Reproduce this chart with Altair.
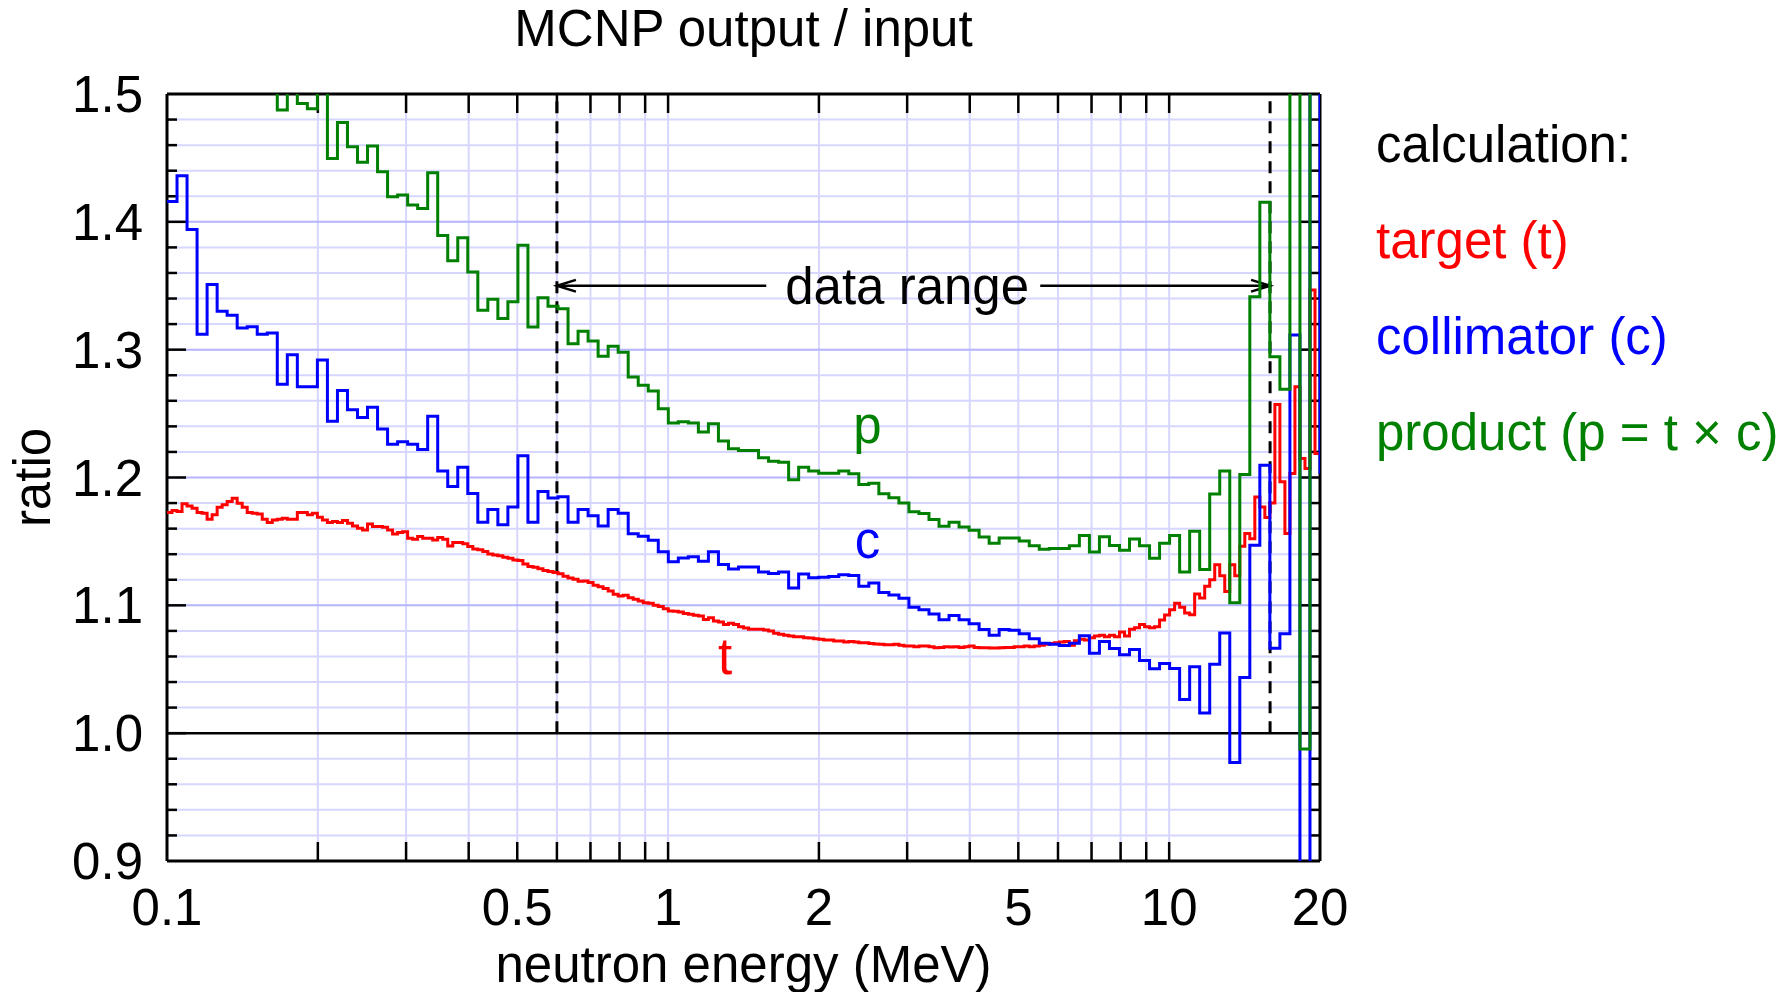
import numpy as np
import pandas as pd
import altair as alt

# ---------------- data ----------------
E_MIN, E_MAX = 0.1, 20.0   # MeV, histogram range (equal-lethargy bins)

# target (t): 230 fine bins (100 per decade)
TARGET = [
    1.1726, 1.1742, 1.1734, 1.1794, 1.1778, 1.1760, 1.1726, 1.1721, 1.1674, 1.1708,
    1.1768, 1.1786, 1.1812, 1.1838, 1.1799, 1.1768, 1.1726, 1.1721, 1.1715, 1.1674,
    1.1648, 1.1668, 1.1674, 1.1682, 1.1674, 1.1674, 1.1726, 1.1726, 1.1708, 1.1721,
    1.1689, 1.1668, 1.1648, 1.1655, 1.1648, 1.1663, 1.1642, 1.1621, 1.1603, 1.1590,
    1.1637, 1.1616, 1.1616, 1.1611, 1.1590, 1.1559, 1.1569, 1.1575, 1.1525, 1.1517,
    1.1538, 1.1525, 1.1525, 1.1512, 1.1530, 1.1517, 1.1465, 1.1491, 1.1491, 1.1481,
    1.1460, 1.1441, 1.1434, 1.1421, 1.1402, 1.1394, 1.1387, 1.1376, 1.1368, 1.1355,
    1.1350, 1.1324, 1.1303, 1.1298, 1.1287, 1.1272, 1.1264, 1.1256, 1.1248, 1.1228,
    1.1214, 1.1204, 1.1188, 1.1191, 1.1178, 1.1157, 1.1146, 1.1131, 1.1112, 1.1086,
    1.1073, 1.1078, 1.1060, 1.1047, 1.1034, 1.1021, 1.1016, 1.1000, 1.0990, 1.0974,
    1.0956, 1.0953, 1.0948, 1.0937, 1.0930, 1.0922, 1.0916, 1.0890, 1.0903, 1.0877,
    1.0869, 1.0851, 1.0859, 1.0851, 1.0833, 1.0823, 1.0812, 1.0812, 1.0812, 1.0807,
    1.0799, 1.0781, 1.0773, 1.0765, 1.0760, 1.0755, 1.0755, 1.0747, 1.0744, 1.0739,
    1.0734, 1.0729, 1.0729, 1.0721, 1.0721, 1.0713, 1.0718, 1.0713, 1.0708, 1.0708,
    1.0702, 1.0697, 1.0695, 1.0692, 1.0692, 1.0695, 1.0687, 1.0682, 1.0682, 1.0676,
    1.0682, 1.0682, 1.0676, 1.0668, 1.0671, 1.0676, 1.0674, 1.0676, 1.0671, 1.0676,
    1.0682, 1.0671, 1.0668, 1.0668, 1.0666, 1.0666, 1.0668, 1.0671, 1.0671, 1.0676,
    1.0676, 1.0682, 1.0676, 1.0682, 1.0687, 1.0695, 1.0702, 1.0708, 1.0713, 1.0718,
    1.0687, 1.0723, 1.0734, 1.0729, 1.0747, 1.0760, 1.0765, 1.0755, 1.0765, 1.0755,
    1.0791, 1.0760, 1.0812, 1.0825, 1.0851, 1.0833, 1.0825, 1.0833, 1.0885, 1.0925,
    1.0965, 1.1016, 1.0985, 1.0940, 1.0927, 1.1088, 1.1057, 1.1149, 1.1200, 1.1318,
    1.1232, 1.1109, 1.1318, 1.1232, 1.1462, 1.1561, 1.1520, 1.1848, 1.1770, 1.1688,
    1.1800, 1.2571, 1.1966, 1.1561, 1.2031, 1.2710, 1.2148, 1.2070, 1.3466, 1.2187,
]
TARGET_END = 1.2187

# collimator (c): 115 coarse bins (50 per decade)
COLLIMATOR = [
    1.416, 1.436, 1.394, 1.312, 1.351, 1.330, 1.327, 1.317, 1.318, 1.312,
    1.313, 1.273, 1.296, 1.271, 1.271, 1.292, 1.244, 1.268, 1.253, 1.247,
    1.255, 1.238, 1.226, 1.228, 1.226, 1.222, 1.248, 1.205, 1.193, 1.208,
    1.1875, 1.165, 1.175, 1.163, 1.177, 1.217, 1.165, 1.189, 1.184, 1.185,
    1.165, 1.175, 1.170, 1.162, 1.175, 1.172, 1.156, 1.154, 1.151, 1.142,
    1.134, 1.137, 1.138, 1.1345, 1.142, 1.132, 1.1285, 1.130, 1.130, 1.126,
    1.125, 1.126, 1.1136, 1.1246, 1.1215, 1.122, 1.1225, 1.124, 1.1233, 1.115,
    1.1175, 1.110, 1.108, 1.1055, 1.0985, 1.0966, 1.0932, 1.0887, 1.092, 1.0887,
    1.0856, 1.081, 1.0765, 1.081, 1.0806, 1.0778, 1.0739, 1.0704, 1.0695, 1.0686,
    1.0704, 1.0763, 1.0625, 1.0718, 1.0663, 1.0614, 1.0654, 1.0569, 1.0503, 1.0545,
    1.0505, 1.0264, 1.052, 1.0157, 1.054, 1.0783, 0.977, 1.0436, 1.147, 1.2095,
    1.0665, 1.0778, 1.3114, 0.82, 1.62,
]
COLLIMATOR_END = 1.203

# product (p = t x c): 115 coarse bins
PRODUCT = [
    1.66, 1.69, 1.64, 1.54, 1.58, 1.55, 1.55, 1.54, 1.545, 1.535,
    1.535, 1.4874, 1.52, 1.4925, 1.4885, 1.51, 1.4496, 1.4778, 1.4587, 1.4467,
    1.4593, 1.4392, 1.4196, 1.4209, 1.4131, 1.4104, 1.4384, 1.3893, 1.3695, 1.3875,
    1.3608, 1.3308, 1.3394, 1.3243, 1.3374, 1.3817, 1.3178, 1.3407, 1.334, 1.3321,
    1.3047, 1.3144, 1.3068, 1.2948, 1.3026, 1.2979, 1.2786, 1.2721, 1.2676, 1.2538,
    1.2426, 1.2436, 1.2426, 1.2355, 1.2421, 1.2285, 1.2225, 1.2212, 1.2212, 1.2154,
    1.2128, 1.212, 1.1982, 1.2081, 1.205, 1.2034, 1.2034, 1.205, 1.2029, 1.1945,
    1.1956, 1.1872, 1.1841, 1.18, 1.1733, 1.1718, 1.1671, 1.1618, 1.165, 1.1613,
    1.1587, 1.1535, 1.1485, 1.1527, 1.1527, 1.1503, 1.1466, 1.1438, 1.1445, 1.1445,
    1.1466, 1.1547, 1.1417, 1.1537, 1.1469, 1.143, 1.1518, 1.1466, 1.1368, 1.1485,
    1.1547, 1.126, 1.158, 1.128, 1.187, 1.205, 1.102, 1.2023, 1.3414, 1.4153,
    1.2944, 1.2691, 1.62, 0.9877, 2.0,
]
PRODUCT_END = 2.0

# axes / annotations
X_TICKS = [0.2, 0.3, 0.4, 0.5, 0.6, 0.7, 0.8, 0.9, 1, 2, 3, 4, 5, 6, 7, 8, 9, 10]
X_LABELS = [0.1, 0.5, 1, 2, 5, 10, 20]
Y_LABELS = [0.9, 1.0, 1.1, 1.2, 1.3, 1.4, 1.5]
Y_MAJOR = [1.0, 1.1, 1.2, 1.3, 1.4]
Y_MAJOR_GRID = [1.1, 1.2, 1.3, 1.4]
Y_MINOR = [0.92, 0.94, 0.96, 0.98, 1.02, 1.04, 1.06, 1.08, 1.12, 1.14, 1.16, 1.18,
           1.22, 1.24, 1.26, 1.28, 1.32, 1.34, 1.36, 1.38, 1.42, 1.44, 1.46, 1.48]
DATA_RANGE = [0.6, 15.9]
ARROW_LEVEL = 1.35
ARROW_GAP = [1.57, 5.53]
CURVE_LABELS = ["p", "c", "t"]
CURVE_LABEL_E = [2.5, 2.5, 1.3]
CURVE_LABEL_R = [1.2266, 1.1368, 1.046]
LEGEND = ["calculation:", "target (t)", "collimator (c)", "product (p = t \u00d7 c)"]

# ---------------- styling ----------------
W, H = 1153, 767
FONT = "Liberation Sans"
FS = 51
RED, BLUE, GREEN, BLACK = "#ff0000", "#0000ff", "#008000", "#000000"
GRID_LIGHT, GRID_MAJOR = "#d6d6ff", "#b4b4ff"

xs = alt.Scale(type="log", domain=[E_MIN, E_MAX], nice=False)
ys = alt.Scale(domain=[0.9, 1.5], nice=False, zero=False)


def X(f="E"):
    return alt.X(f"{f}:Q", scale=xs, axis=None)


def Y(f="R"):
    return alt.Y(f"{f}:Q", scale=ys, axis=None)


def step_frame(values, end):
    edges = np.geomspace(E_MIN, E_MAX, len(values) + 1)
    return pd.DataFrame({"E": edges, "R": list(values) + [end]})


one = pd.DataFrame({"t": [""]})
layers = []

# grid
layers.append(alt.Chart(pd.DataFrame({"E": X_TICKS})).mark_rule(color=GRID_LIGHT, strokeWidth=2).encode(x=X()))
layers.append(alt.Chart(pd.DataFrame({"R": Y_MINOR})).mark_rule(color=GRID_LIGHT, strokeWidth=2).encode(y=Y()))
layers.append(alt.Chart(pd.DataFrame({"R": Y_MAJOR_GRID})).mark_rule(color=GRID_MAJOR, strokeWidth=2).encode(y=Y()))
layers.append(alt.Chart(pd.DataFrame({"R": [1.0]})).mark_rule(color=BLACK, strokeWidth=2.5).encode(y=Y()))

# frame
FW = 3
layers.append(alt.Chart(one).mark_rule(color=BLACK, strokeWidth=FW).encode(x=alt.value(0), y=alt.value(0), y2=alt.value(H)))
layers.append(alt.Chart(one).mark_rule(color=BLACK, strokeWidth=FW).encode(x=alt.value(W), y=alt.value(0), y2=alt.value(H)))
layers.append(alt.Chart(one).mark_rule(color=BLACK, strokeWidth=FW).encode(y=alt.value(0), x=alt.value(0), x2=alt.value(W)))
layers.append(alt.Chart(one).mark_rule(color=BLACK, strokeWidth=FW).encode(y=alt.value(H), x=alt.value(0), x2=alt.value(W)))

# ticks (inward, all four sides)
xt = pd.DataFrame({"E": X_TICKS})
layers.append(alt.Chart(xt).mark_rule(color=BLACK, strokeWidth=2.5).encode(x=X(), y=alt.value(0), y2=alt.value(19)))
layers.append(alt.Chart(xt).mark_rule(color=BLACK, strokeWidth=2.5).encode(x=X(), y=alt.value(H - 19), y2=alt.value(H)))
ymj = pd.DataFrame({"R": Y_MAJOR})
ymn = pd.DataFrame({"R": Y_MINOR})
layers.append(alt.Chart(ymj).mark_rule(color=BLACK, strokeWidth=2.5).encode(y=Y(), x=alt.value(0), x2=alt.value(19)))
layers.append(alt.Chart(ymj).mark_rule(color=BLACK, strokeWidth=2.5).encode(y=Y(), x=alt.value(W - 19), x2=alt.value(W)))
layers.append(alt.Chart(ymn).mark_rule(color=BLACK, strokeWidth=2.5).encode(y=Y(), x=alt.value(0), x2=alt.value(10)))
layers.append(alt.Chart(ymn).mark_rule(color=BLACK, strokeWidth=2.5).encode(y=Y(), x=alt.value(W - 10), x2=alt.value(W)))

# data-range markers
dr = pd.DataFrame({"E": DATA_RANGE, "R0": [1.0, 1.0], "R1": [1.5, 1.5]})
layers.append(alt.Chart(dr).mark_rule(color=BLACK, strokeWidth=3, strokeDash=[12, 8]).encode(
    x=X(), y=Y("R0"), y2="R1:Q"))
seg = pd.DataFrame({"E0": [DATA_RANGE[0], ARROW_GAP[1]], "E1": [ARROW_GAP[0], DATA_RANGE[1]],
                    "R": [ARROW_LEVEL, ARROW_LEVEL]})
layers.append(alt.Chart(seg).mark_rule(color=BLACK, strokeWidth=2.5).encode(x=X("E0"), x2="E1:Q", y=Y()))
layers.append(alt.Chart(pd.DataFrame({"E": [DATA_RANGE[0]], "R": [ARROW_LEVEL]})).mark_point(
    shape="M1,-0.31L0,0L1,0.31", filled=False, stroke=BLACK, strokeWidth=2.5, size=1444, opacity=1
).encode(x=X(), y=Y()))
layers.append(alt.Chart(pd.DataFrame({"E": [DATA_RANGE[1]], "R": [ARROW_LEVEL]})).mark_point(
    shape="M-1,-0.31L0,0L-1,0.31", filled=False, stroke=BLACK, strokeWidth=2.5, size=1444, opacity=1
).encode(x=X(), y=Y()))
layers.append(alt.Chart(pd.DataFrame({"E": [3.0], "R": [ARROW_LEVEL], "t": ["data range"]})).mark_text(
    font=FONT, fontSize=FS, color=BLACK, align="center", baseline="alphabetic", dy=18
).encode(x=X(), y=Y(), text="t:N"))

# histograms
for vals, end, col in [(TARGET, TARGET_END, RED), (COLLIMATOR, COLLIMATOR_END, BLUE), (PRODUCT, PRODUCT_END, GREEN)]:
    layers.append(alt.Chart(step_frame(vals, end)).mark_line(
        color=col, strokeWidth=3, interpolate="step-after", clip=True
    ).encode(x=X(), y=Y()))

# curve labels
for lab, e, r, col in zip(CURVE_LABELS, CURVE_LABEL_E, CURVE_LABEL_R, [GREEN, BLUE, RED]):
    layers.append(alt.Chart(pd.DataFrame({"E": [e], "R": [r], "t": [lab]})).mark_text(
        font=FONT, fontSize=FS, color=col, align="center", baseline="alphabetic"
    ).encode(x=X(), y=Y(), text="t:N"))

# tick labels
layers.append(alt.Chart(pd.DataFrame({"E": X_LABELS})).mark_text(
    font=FONT, fontSize=FS, color=BLACK, align="center", baseline="alphabetic"
).encode(x=X(), y=alt.value(831), text=alt.Text("E:Q", format="~g")))
layers.append(alt.Chart(pd.DataFrame({"R": Y_LABELS})).mark_text(
    font=FONT, fontSize=FS, color=BLACK, align="right", baseline="alphabetic", dy=18
).encode(y=Y(), x=alt.value(-24), text=alt.Text("R:Q", format=".1f")))

# titles
layers.append(alt.Chart(pd.DataFrame({"t": ["MCNP output / input"]})).mark_text(
    font=FONT, fontSize=FS, color=BLACK, align="center", baseline="alphabetic"
).encode(x=alt.value(W / 2), y=alt.value(-48), text="t:N"))
layers.append(alt.Chart(pd.DataFrame({"t": ["neutron energy (MeV)"]})).mark_text(
    font=FONT, fontSize=FS, color=BLACK, align="center", baseline="alphabetic"
).encode(x=alt.value(W / 2), y=alt.value(888), text="t:N"))
layers.append(alt.Chart(pd.DataFrame({"t": ["ratio"]})).mark_text(
    font=FONT, fontSize=FS, color=BLACK, align="center", baseline="alphabetic", angle=270
).encode(x=alt.value(-117), y=alt.value(H / 2), text="t:N"))

# legend text
for i, (lab, col) in enumerate(zip(LEGEND, [BLACK, RED, BLUE, GREEN])):
    layers.append(alt.Chart(pd.DataFrame({"t": [lab]})).mark_text(
        font=FONT, fontSize=FS, color=col, align="left", baseline="alphabetic"
    ).encode(x=alt.value(1209), y=alt.value(67.5 + i * 96), text="t:N"))

chart = alt.layer(*layers).properties(
    width=W, height=H,
    autosize=alt.AutoSizeParams(type="none"),
    padding={"left": 167, "top": 94, "right": 1788 - 167 - W, "bottom": 992 - 94 - H},
).configure_view(stroke=None).configure(background="white")

chart.save("out.html", embed_options={"renderer": "svg", "actions": False})
